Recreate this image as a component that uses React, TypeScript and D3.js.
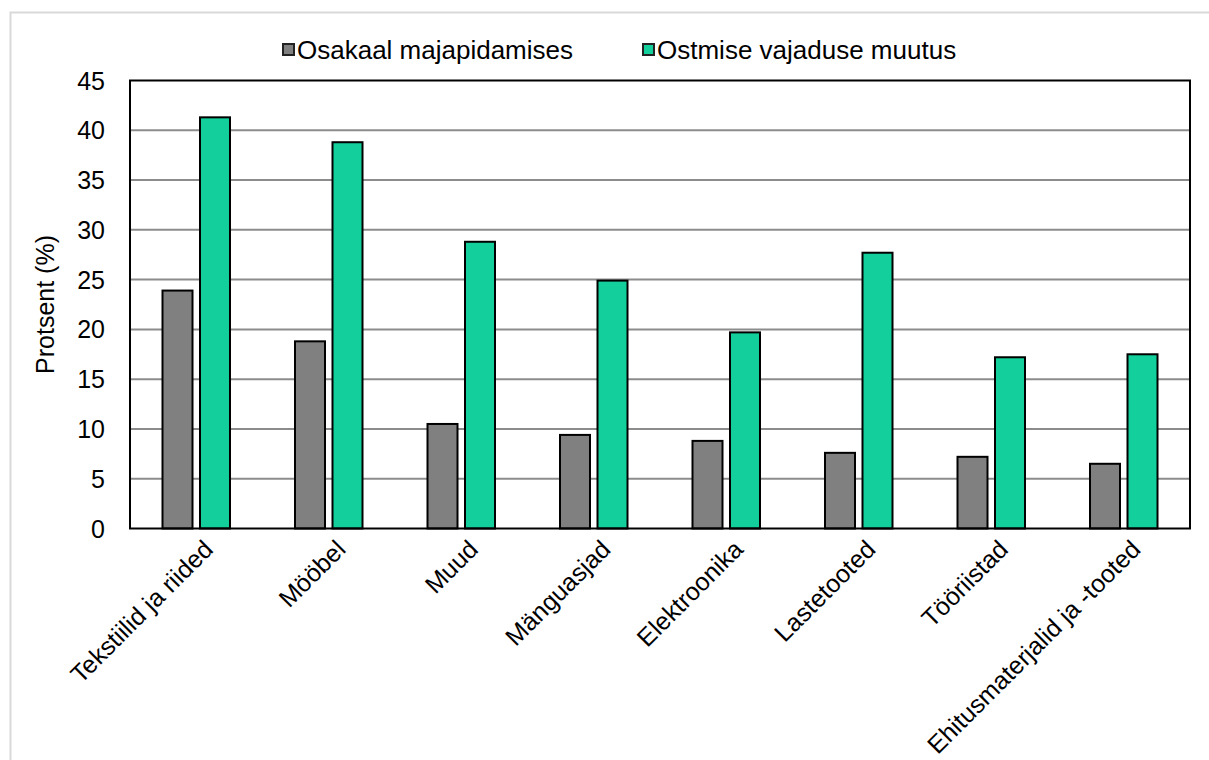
import * as d3 from "d3";
import React, { useEffect, useRef } from "react";

// categories and values
const categories = [
  "Tekstiilid ja riided",
  "Mööbel",
  "Muud",
  "Mänguasjad",
  "Elektroonika",
  "Lastetooted",
  "Tööriistad",
  "Ehitusmaterjalid ja -tooted",
];
const seriesNames = ["Osakaal majapidamises", "Ostmise vajaduse muutus"];
const osakaal = [23.9, 18.8, 10.5, 9.4, 8.8, 7.6, 7.2, 6.5];
const muutus = [41.3, 38.8, 28.8, 24.9, 19.7, 27.7, 17.2, 17.5];
const yTicks = [0, 5, 10, 15, 20, 25, 30, 35, 40, 45];
const colors = ["#808080", "#12CF9B"];

const FONT = "'Liberation Sans', Arial, sans-serif";

export default function App() {
  const ref = useRef<SVGSVGElement>(null);

  useEffect(() => {
    const svg = d3.select(ref.current);
    svg.selectAll("*").remove();

    const left = 130;
    const right = 1190;
    const top = 80.5;
    const bottom = 528.5;

    // outer chart border
    svg
      .append("rect")
      .attr("x", 10.5)
      .attr("y", 12.5)
      .attr("width", 1220)
      .attr("height", 800)
      .attr("fill", "#fff")
      .attr("stroke", "#d9d9d9")
      .attr("stroke-width", 2);

    const x0 = d3.scaleBand().domain(categories).range([left, right]);
    const y = d3.scaleLinear().domain([0, 45]).range([bottom, top]);

    // gridlines
    svg
      .append("g")
      .selectAll("line")
      .data(yTicks.slice(1, -1))
      .enter()
      .append("line")
      .attr("x1", left)
      .attr("x2", right)
      .attr("y1", (d) => y(d))
      .attr("y2", (d) => y(d))
      .attr("stroke", "#8c8c8c")
      .attr("stroke-width", 2);

    // y tick labels
    svg
      .append("g")
      .selectAll("text")
      .data(yTicks)
      .enter()
      .append("text")
      .attr("x", 105)
      .attr("y", (d) => y(d))
      .attr("dy", "0.36em")
      .attr("text-anchor", "end")
      .attr("font-family", FONT)
      .attr("font-size", 25)
      .text((d) => d);

    // y axis title
    svg
      .append("text")
      .attr("transform", `translate(54,${(top + bottom) / 2}) rotate(-90)`)
      .attr("text-anchor", "middle")
      .attr("font-family", FONT)
      .attr("font-size", 25)
      .text("Protsent (%)");

    // bars
    const data = categories.map((c, i) => ({ c, vals: [osakaal[i], muutus[i]] }));
    const groups = svg
      .append("g")
      .selectAll("g")
      .data(data)
      .enter()
      .append("g");

    groups.each(function (d) {
      const cx = (x0(d.c) as number) + x0.bandwidth() / 2;
      const x1 = d3
        .scaleBand()
        .domain(seriesNames)
        .range([cx - 33.75, cx + 33.75])
        .paddingInner(0.2);
      d3.select(this)
        .selectAll("rect")
        .data(d.vals)
        .enter()
        .append("rect")
        .attr("x", (_v, j) => x1(seriesNames[j]) as number)
        .attr("y", (v) => y(v))
        .attr("width", x1.bandwidth())
        .attr("height", (v) => y(0) - y(v))
        .attr("fill", (_v, j) => colors[j])
        .attr("stroke", "#000")
        .attr("stroke-width", 2);
    });

    // plot frame
    svg
      .append("rect")
      .attr("x", left)
      .attr("y", top)
      .attr("width", right - left)
      .attr("height", bottom - top)
      .attr("fill", "none")
      .attr("stroke", "#000")
      .attr("stroke-width", 2);

    // x labels
    svg
      .append("g")
      .selectAll("text")
      .data(categories)
      .enter()
      .append("text")
      .attr(
        "transform",
        (d) => `translate(${(x0(d) as number) + x0.bandwidth() / 2 + 6},${bottom + 10}) rotate(-45)`
      )
      .attr("text-anchor", "end")
      .attr("dy", "0.7em")
      .attr("font-family", FONT)
      .attr("font-size", 25)
      .text((d) => d);

    // legend
    const legendX = [283, 643];
    const legend = svg
      .append("g")
      .selectAll("g")
      .data(seriesNames)
      .enter()
      .append("g")
      .attr("transform", (_d, i) => `translate(${legendX[i]},0)`);
    legend
      .append("rect")
      .attr("x", 0)
      .attr("y", 44)
      .attr("width", 11)
      .attr("height", 11)
      .attr("fill", (_d, i) => colors[i])
      .attr("stroke", "#222")
      .attr("stroke-width", 2);
    legend
      .append("text")
      .attr("x", 14)
      .attr("y", 59)
      .attr("font-family", FONT)
      .attr("font-size", 26)
      .text((d) => d);
  }, []);

  return (
    <svg
      ref={ref}
      width={1209}
      height={760}
      style={{ position: "absolute", left: 0, top: 0, background: "#fff" }}
    />
  );
}
